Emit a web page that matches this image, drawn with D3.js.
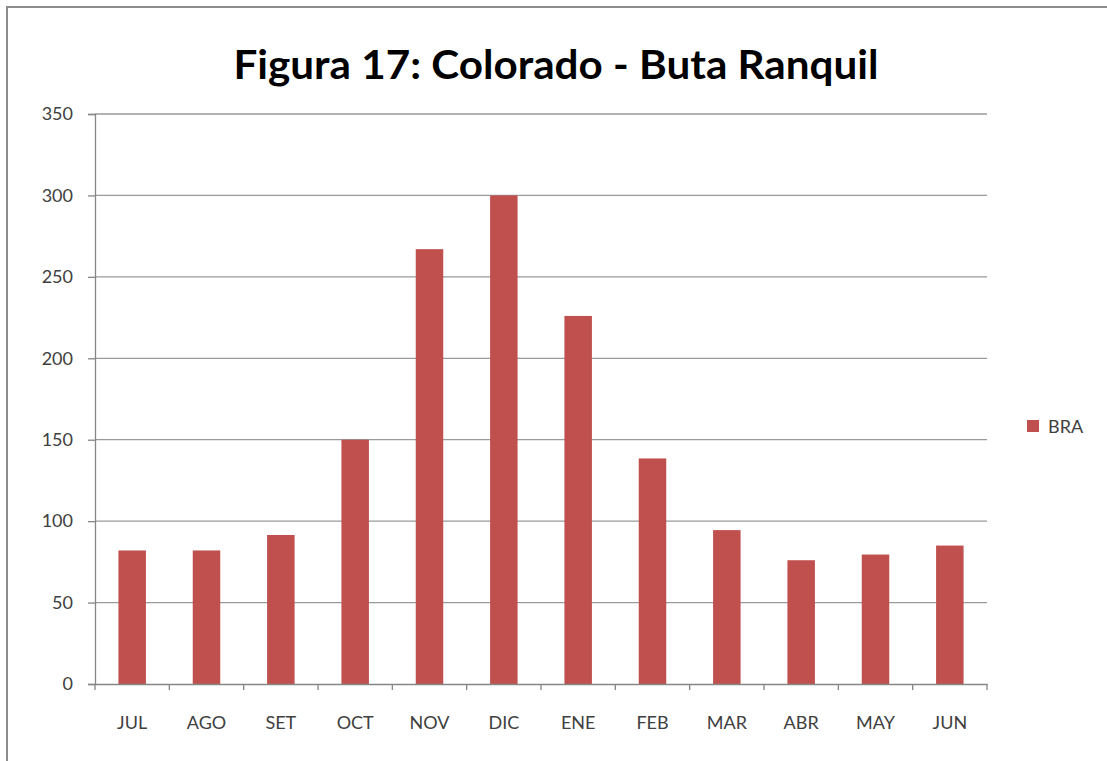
<!DOCTYPE html>
<html><head><meta charset="utf-8">
<script src="https://cdn.jsdelivr.net/npm/d3@7"></script>
<style>body{margin:0;background:#fff}svg{display:block}</style>
</head><body>
<script>
const categories = ["JUL","AGO","SET","OCT","NOV","DIC","ENE","FEB","MAR","ABR","MAY","JUN"];
const braValues = [82, 82, 91.5, 150, 267, 300, 226, 138.5, 94.5, 76, 79.5, 85];
const yTicks = [0, 50, 100, 150, 200, 250, 300, 350];
const seriesName = "BRA";
const titleText = "Figura 17: Colorado - Buta Ranquil";

(function () {
const W = 1107, H = 761;
const svg = d3.select("body").append("svg").attr("width", W).attr("height", H);
const font = "Lato, 'Open Sans', sans-serif";

// outer frame
svg.append("rect").attr("x", 7).attr("y", 7).attr("width", W - 5).attr("height", H + 10)
  .attr("fill", "#fff").attr("stroke", "#8c8c8c").attr("stroke-width", 2);

const pL = 95, pR = 987, pT = 114, pB = 684;
const x = d3.scaleBand().domain(categories).range([pL, pR]).paddingInner(0.63).paddingOuter(0.315);
const xb = d3.scaleBand().domain(categories).range([pL, pR]);
const y = d3.scaleLinear().domain([0, 350]).range([pB, pT]);

// gridlines
svg.append("g").selectAll("line").data(yTicks.filter(d => d > 0)).join("line")
  .attr("x1", pL).attr("x2", pR).attr("y1", d => y(d)).attr("y2", d => y(d))
  .attr("stroke", "#9a9a9a").attr("stroke-width", 1.3);

// bars
svg.append("g").selectAll("rect").data(braValues).join("rect")
  .attr("x", (d, i) => x(categories[i])).attr("width", x.bandwidth())
  .attr("y", d => y(d)).attr("height", d => y(0) - y(d))
  .attr("fill", "#c0504d");

// y axis
const yAxis = svg.append("g").attr("transform", `translate(${pL},0)`)
  .call(d3.axisLeft(y).tickValues(yTicks).tickSize(7).tickPadding(15));
yAxis.select(".domain").attr("stroke", "#868686").attr("stroke-width", 1.3);
yAxis.selectAll(".tick line").attr("stroke", "#868686").attr("stroke-width", 1.3);
yAxis.selectAll("text").attr("font-family", font).attr("font-size", 18).attr("fill", "#404040");

// x axis
const xAxis = svg.append("g").attr("transform", `translate(0,${pB})`)
  .call(d3.axisBottom(xb).tickSize(0).tickPadding(32));
xAxis.select(".domain").attr("stroke", "#868686").attr("stroke-width", 1.3);
xAxis.selectAll("text").attr("font-family", font).attr("font-size", 18).attr("fill", "#404040");
svg.append("g").selectAll("line").data(d3.range(categories.length + 1)).join("line")
  .attr("x1", i => pL + i * xb.step()).attr("x2", i => pL + i * xb.step())
  .attr("y1", pB).attr("y2", pB + 6).attr("stroke", "#868686").attr("stroke-width", 1.3);

// title
svg.append("text").attr("x", 556).attr("y", 79).attr("text-anchor", "middle")
  .attr("font-family", font).attr("font-weight", "bold").attr("font-size", 41)
  .attr("textLength", 645).attr("lengthAdjust", "spacingAndGlyphs")
  .attr("fill", "#000").text(titleText);

// legend
svg.append("rect").attr("x", 1027).attr("y", 420).attr("width", 12).attr("height", 12).attr("fill", "#c0504d");
svg.append("text").attr("x", 1048).attr("y", 433).attr("font-family", font).attr("font-size", 18)
  .attr("fill", "#404040").text(seriesName);
})();
</script>
</body></html>
